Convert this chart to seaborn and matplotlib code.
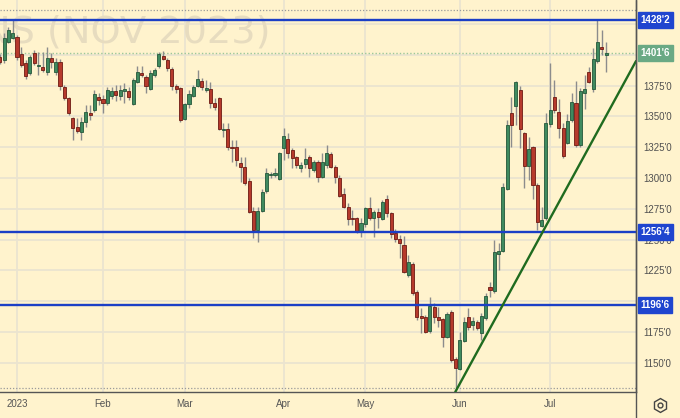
import numpy as np
import pandas as pd
import matplotlib
matplotlib.use("Agg")
import matplotlib.pyplot as plt
from matplotlib.lines import Line2D
from matplotlib import font_manager
import seaborn as sns

# ---------------- data ----------------
title_text = "SOYBEANS (NOV 2023)"
holidays = ["2023-01-02", "2023-01-16", "2023-02-20", "2023-04-07",
            "2023-05-29", "2023-06-19", "2023-07-04"]
start_date = "2022-12-27"
end_date = "2023-07-21"

opens = [1398.2, 1395.8, 1410.4, 1413.7,
         1414.5, 1400.7, 1393.4, 1385.2, 1401.5, 1390.9, 1390.1, 1386.1, 1397.4, 1386.1,
         1394.2, 1373.9, 1365.0, 1348.7, 1341.4, 1337.4, 1345.5, 1352.8, 1355.2, 1365.8,
         1364.1, 1360.9, 1366.6, 1370.6, 1366.6, 1370.6, 1370.6, 1360.1, 1377.9, 1385.2,
         1382.0, 1372.3, 1383.6, 1390.9, 1399.0, 1395.8, 1388.5, 1374.7, 1373.1, 1347.9,
         1360.1, 1366.6, 1374.7, 1378.8, 1371.4, 1372.3, 1360.9, 1365.0, 1339.0, 1339.8,
         1325.2, 1325.2, 1312.2, 1308.9, 1297.6, 1273.2, 1257.8, 1273.2, 1289.5, 1302.5,
         1302.5, 1299.2, 1324.4, 1331.7, 1322.7, 1317.1, 1308.1, 1311.4, 1317.1, 1306.5,
         1313.0, 1300.8, 1310.6, 1319.5, 1308.9, 1300.0, 1287.0, 1276.5, 1267.5, 1267.5,
         1256.2, 1262.7, 1275.7, 1267.5, 1272.4, 1266.7, 1283.0, 1271.6, 1255.4, 1250.5,
         1245.6, 1221.3, 1230.2, 1207.5, 1188.0, 1187.2, 1175.8, 1195.3, 1187.2, 1185.6,
         1171.0, 1191.2, 1153.1, 1145.0, 1167.7, 1187.2, 1180.7, 1183.1, 1174.2, 1186.4,
         1211.5, 1208.3, 1238.3, 1240.8, 1291.1, 1352.8, 1358.5, 1371.4, 1336.5, 1309.8,
         1325.2, 1294.3, 1261.1, 1267.5, 1343.8, 1365.8, 1353.6, 1340.6, 1328.4, 1347.1,
         1360.9, 1326.8, 1369.0, 1386.1, 1372.3, 1395.0, 1406.4, 1400.0]
highs = [1400.7, 1417.7, 1422.6, 1428.0,
         1416.1, 1406.4, 1395.8, 1399.9, 1403.9, 1402.3, 1402.3, 1406.4, 1401.5, 1397.4,
         1396.6, 1375.5, 1365.8, 1349.5, 1348.7, 1349.5, 1359.3, 1359.3, 1371.4, 1369.0,
         1367.4, 1373.9, 1373.9, 1375.5, 1375.5, 1377.1, 1373.9, 1381.2, 1390.9, 1390.9,
         1383.6, 1387.7, 1389.3, 1402.3, 1403.1, 1397.4, 1390.1, 1376.3, 1373.9, 1360.9,
         1371.4, 1375.5, 1387.7, 1381.2, 1379.6, 1377.9, 1365.0, 1365.8, 1344.7, 1344.7,
         1330.9, 1330.9, 1317.1, 1317.1, 1300.0, 1276.5, 1276.5, 1291.1, 1308.1, 1304.9,
         1308.1, 1321.1, 1340.6, 1336.5, 1324.4, 1318.0, 1313.0, 1324.4, 1318.7, 1314.6,
         1314.6, 1320.3, 1326.8, 1321.1, 1310.6, 1302.5, 1291.9, 1279.7, 1274.0, 1268.4,
         1267.5, 1276.5, 1284.6, 1274.0, 1275.7, 1282.2, 1286.2, 1272.4, 1258.6, 1253.8,
         1252.9, 1237.5, 1231.8, 1209.1, 1194.5, 1188.8, 1203.4, 1198.6, 1195.3, 1186.4,
         1191.2, 1192.9, 1154.7, 1175.0, 1187.2, 1194.5, 1187.2, 1184.8, 1190.4, 1206.7,
         1215.6, 1249.7, 1247.3, 1296.0, 1347.1, 1365.8, 1378.8, 1374.7, 1337.4, 1333.3,
         1326.0, 1296.0, 1276.5, 1352.8, 1393.4, 1379.6, 1364.1, 1344.7, 1352.0, 1369.0,
         1378.8, 1373.1, 1383.6, 1390.1, 1405.5, 1428.25, 1420.1, 1410.4]
lows = [1392.6, 1393.4, 1409.6, 1412.8,
        1395.8, 1390.1, 1380.4, 1383.6, 1391.7, 1383.6, 1386.1, 1383.6, 1389.3, 1383.6,
        1371.4, 1363.3, 1351.2, 1330.9, 1336.5, 1330.9, 1341.4, 1347.1, 1353.6, 1359.3,
        1352.8, 1359.3, 1364.1, 1362.5, 1363.3, 1360.9, 1363.3, 1359.3, 1377.1, 1382.0,
        1369.0, 1371.4, 1382.0, 1389.5, 1395.8, 1386.9, 1371.4, 1369.0, 1345.5, 1347.1,
        1356.8, 1365.8, 1373.9, 1371.4, 1369.8, 1356.8, 1355.2, 1339.0, 1333.3, 1322.7,
        1313.0, 1309.8, 1296.8, 1294.3, 1271.6, 1251.3, 1248.1, 1272.4, 1287.8, 1300.0,
        1300.8, 1298.4, 1314.6, 1316.3, 1308.1, 1308.1, 1304.9, 1308.1, 1300.8, 1304.9,
        1296.8, 1300.0, 1308.1, 1308.1, 1296.0, 1284.6, 1275.7, 1261.9, 1261.9, 1255.4,
        1252.1, 1260.2, 1265.9, 1252.1, 1259.4, 1265.9, 1268.4, 1251.3, 1248.1, 1235.1,
        1222.9, 1219.7, 1205.0, 1184.8, 1174.2, 1174.2, 1174.2, 1182.3, 1179.1, 1162.8,
        1170.1, 1150.7, 1129.6, 1144.2, 1166.9, 1176.6, 1176.6, 1176.6, 1168.5, 1184.8,
        1203.4, 1206.7, 1225.3, 1240.0, 1290.3, 1325.2, 1343.0, 1324.4, 1291.9, 1298.4,
        1283.0, 1257.8, 1260.2, 1265.9, 1341.4, 1352.8, 1332.5, 1316.3, 1327.6, 1345.5,
        1325.2, 1325.2, 1356.0, 1377.1, 1369.8, 1393.4, 1399.9, 1386.1]
closes = [1394.2, 1413.7, 1420.1, 1417.7,
          1398.2, 1391.7, 1382.8, 1398.2, 1393.4, 1391.7, 1387.7, 1397.4, 1394.2, 1394.2,
          1374.7, 1365.0, 1352.8, 1340.6, 1338.2, 1345.5, 1353.6, 1351.2, 1368.2, 1363.3,
          1360.9, 1371.4, 1370.6, 1367.4, 1371.4, 1372.3, 1365.8, 1379.6, 1386.1, 1383.6,
          1374.7, 1385.2, 1387.7, 1400.7, 1396.6, 1389.3, 1374.7, 1372.3, 1347.1, 1360.1,
          1368.2, 1373.9, 1380.4, 1373.9, 1373.1, 1360.9, 1357.6, 1339.8, 1339.8, 1325.2,
          1324.4, 1314.6, 1308.9, 1296.0, 1272.4, 1257.8, 1273.2, 1288.7, 1304.1, 1303.3,
          1304.1, 1320.3, 1334.1, 1320.3, 1316.3, 1310.6, 1310.6, 1315.4, 1308.1, 1313.0,
          1300.8, 1313.0, 1320.3, 1308.9, 1300.8, 1285.4, 1276.5, 1266.7, 1266.7, 1256.2,
          1263.5, 1275.7, 1267.5, 1272.4, 1268.4, 1280.5, 1271.6, 1254.6, 1250.5, 1247.3,
          1223.7, 1231.8, 1206.7, 1187.2, 1186.4, 1175.0, 1196.1, 1187.2, 1184.8, 1171.0,
          1189.6, 1152.3, 1145.8, 1168.5, 1183.1, 1179.1, 1183.9, 1178.3, 1188.0, 1204.2,
          1209.1, 1240.0, 1240.8, 1292.7, 1343.0, 1343.0, 1377.9, 1339.8, 1309.8, 1323.6,
          1294.3, 1264.3, 1265.9, 1344.7, 1355.2, 1355.2, 1340.6, 1317.9, 1346.3, 1361.7,
          1326.8, 1370.6, 1372.3, 1377.9, 1396.6, 1410.4, 1404.7, 1401.75]

levels = [1428.25, 1256.5, 1196.75]          # blue horizontal levels
dotted_levels = [1436.4, 1129.6]             # grey dotted range lines
trend_dates = ["2023-05-31", "2023-06-29"]   # trend line anchor dates
trend_prices = [1126.8, 1254.6]
grid_ticks = list(range(1150, 1426, 25))
label_ticks = [1150, 1175, 1200, 1225, 1250, 1275, 1300, 1325, 1350, 1375]

# ---------------- calendar ----------------
dates = pd.bdate_range(start_date, end_date)
dates = dates[~dates.isin(pd.to_datetime(holidays))]
n = len(dates)
pos = np.arange(n)

def fmt(v):
    whole = int(np.floor(v))
    eighths = int(round((v - whole) * 8))
    return f"{whole}'{eighths}"

df = pd.DataFrame({"pos": pos, "open": opens, "high": highs, "low": lows, "close": closes})
df["up"] = df["close"] >= df["open"]
df["bottom"] = df[["open", "close"]].min(axis=1)
df["height"] = (df["close"] - df["open"]).abs().clip(lower=0.9)

# ---------------- style ----------------
bg = "#fff3cd"
sns.set_theme(style="white", rc={"axes.facecolor": bg, "figure.facecolor": bg})
plt.rcParams["font.family"] = ["DejaVu Sans"]

avail = {f.name for f in font_manager.fontManager.ttflist}
label_font = "Liberation Sans Narrow" if "Liberation Sans Narrow" in avail else "Liberation Sans"
label_size = 8.8 if label_font == "Liberation Sans Narrow" else 7.0

fig = plt.figure(figsize=(6.8, 4.18), dpi=100)
ax = fig.add_axes([0, 26 / 418, 636 / 680, 392 / 418])
ax.set_facecolor(bg)

x_left = 0.05
x_right = x_left + 636 / 4.3
ax.set_xlim(x_left, x_right)
ax.set_ylim(1126.3, 1444.5)

# grid
month_pos = []
month_lab = []
for m in range(1, 8):
    first = np.argmax(dates >= pd.Timestamp(2023, m, 1))
    month_pos.append(first)
    month_lab.append("2023" if m == 1 else dates[first].strftime("%b"))
for mp in month_pos:
    ax.axvline(mp, color="#ebe4d0", lw=1.3, zorder=0)
for yt in grid_ticks:
    ax.axhline(yt, color="#ebe4d0", lw=1.3, zorder=0)

# watermark
ax.text(271 / 636, (392 - 43) / 392, title_text, transform=ax.transAxes,
        ha="right", va="baseline", fontsize=27.5, color="#e7dcbf", zorder=0.5, clip_on=True)

# dotted range lines
for lv in dotted_levels:
    ax.axhline(lv, color="#9a9a9a", lw=0.9, ls=(0, (1, 1.5)), zorder=1)
ax.axhline(closes[-1], color="#9cc79a", lw=1.0, ls=(0, (1, 1.5)), zorder=1)

# candles
ax.vlines(df["pos"], df["low"], df["high"], color="#8c8c8c", lw=1.0, zorder=2)
up = df[df["up"]]
dn = df[~df["up"]]
ax.bar(up["pos"], up["height"], bottom=up["bottom"], width=0.72,
       color="#3f8a5f", edgecolor="#24573a", linewidth=0.6, zorder=3)
ax.bar(dn["pos"], dn["height"], bottom=dn["bottom"], width=0.72,
       color="#b63a2c", edgecolor="#6e1a12", linewidth=0.6, zorder=3)

# blue levels
for lv in levels:
    ax.axhline(lv, color="#1b3fc6", lw=1.7, zorder=4)

# trend line
tpos = [int(np.argmax(dates >= pd.Timestamp(d))) for d in trend_dates]
ax.axline((tpos[0], trend_prices[0]), (tpos[1], trend_prices[1]),
          color="#1f6b1f", lw=1.7, zorder=4)

# axes: ticks on right
ax.yaxis.tick_right()
ax.set_yticks(label_ticks)
ax.set_yticklabels([fmt(v) for v in label_ticks], family=label_font)
ax.set_xticks(month_pos)
ax.set_xticklabels(month_lab, family=label_font)
ax.tick_params(axis="y", length=0, pad=5, labelsize=label_size, labelcolor="#505050")
ax.tick_params(axis="x", length=0, pad=5, labelsize=label_size, labelcolor="#555555")
for s in ["top", "left"]:
    ax.spines[s].set_visible(False)
ax.spines["right"].set_color("#555555")
ax.spines["bottom"].set_color("#555555")
ax.spines["right"].set_linewidth(1.0)
ax.spines["bottom"].set_linewidth(1.0)

# price labels
box_style = "square,pad=0.3"
for lv in levels:
    ax.annotate(fmt(lv), xy=(1, lv), xycoords=("axes fraction", "data"),
                xytext=(3.2, 0), textcoords="offset points", ha="left", va="center",
                fontsize=label_size, fontweight="bold", family=label_font,
                color="white", zorder=10,
                bbox=dict(boxstyle=box_style, fc="#1f45cf", ec="#1f45cf"),
                annotation_clip=False)
ax.annotate(fmt(closes[-1]), xy=(1, closes[-1]), xycoords=("axes fraction", "data"),
            xytext=(3.2, 0), textcoords="offset points", ha="left", va="center",
            fontsize=label_size, fontweight="bold", family=label_font,
            color="white", zorder=10,
            bbox=dict(boxstyle=box_style, fc="#6aa984", ec="#6aa984"),
            annotation_clip=False)

# right axis line continues to bottom, settings icon
fig.add_artist(Line2D([636 / 680, 636 / 680], [0, 1], transform=fig.transFigure,
                      color="#555555", lw=1.0))
fig.add_artist(Line2D([660 / 680], [1 - 405 / 418], transform=fig.transFigure,
                      marker="h", markersize=10, mfc="none", mec="#444444", mew=1.0))
fig.add_artist(Line2D([660 / 680], [1 - 405 / 418], transform=fig.transFigure,
                      marker="o", markersize=3.5, mfc="none", mec="#444444", mew=1.0))

fig.savefig("out.png", dpi=100, facecolor=bg)
